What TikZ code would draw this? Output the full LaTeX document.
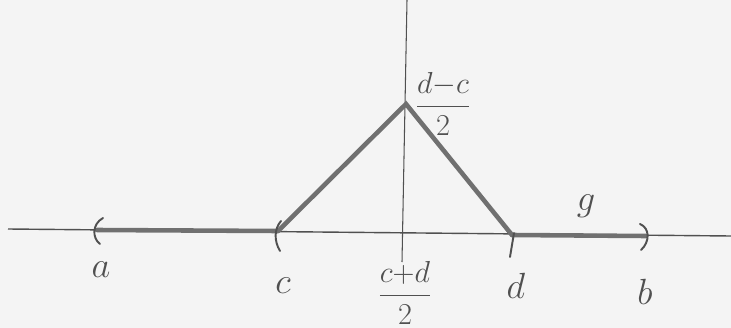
\documentclass[tikz,border=0pt]{standalone}
\usepackage{tikz}
\usetikzlibrary{positioning}
\definecolor{pencil}{HTML}{505050}
\definecolor{pencilthick}{HTML}{707070}
\definecolor{paper}{HTML}{F4F4F4}
\tikzset{%
  axisline/.style={draw=pencil,line width=0.8pt},
  graphline/.style={draw=pencilthick,line width=2.6pt,line cap=round},
  endmark/.style={draw=pencil,line width=1.1pt,line cap=round},
  pointlabel/.style={text=pencil,font=\huge},
  fraclabel/.style={text=pencil,font=\LARGE,inner sep=1pt}
}
\begin{document}
\begin{tikzpicture}[x=0.02cm,y=-0.02cm]
    \fill[paper] (0,0) rectangle (731,328);
    \useasboundingbox (0,0) rectangle (731,328);

    % points on the line
    \coordinate (left) at (8,229);
    \coordinate (right) at (731,236);
    \coordinate (pa) at (97,230);
    \coordinate (pc) at (278,231);
    \coordinate (pd) at (512,235);
    \coordinate (pb) at (646,236);
    \coordinate (apex) at (406,104);
    \coordinate (top) at (407,0);
    \coordinate (foot) at (402,262);

    % axis and middle line
    \draw[axisline] (left) -- (right);
    \draw[axisline,line width=0.6pt] (top) -- (foot);

    % the function g
    \draw[graphline] (pa) -- (pc);
    \draw[graphline] (pc) -- (apex) -- (pd);
    \draw[graphline] (pd) -- (pb);

    % interval ends
    \draw[endmark] ([shift={(6,-12)}]pa) .. controls ([shift={(-5,-6)}]pa) and ([shift={(-5,8)}]pa) .. ([shift={(3,14)}]pa);
    \draw[endmark] ([shift={(3,-10)}]pc) .. controls ([shift={(-4,-2)}]pc) and ([shift={(-4,10)}]pc) .. ([shift={(2,20)}]pc);
    \draw[endmark] ([shift={(2,-2)}]pd) -- ([shift={(-2,22)}]pd);
    \draw[endmark] ([shift={(-6,-12)}]pb) .. controls ([shift={(4,-8)}]pb) and ([shift={(4,6)}]pb) .. ([shift={(-5,14)}]pb);

    % labels
    \node[pointlabel] (la) at (101,270) {$a$};
    \node[pointlabel] (lc) at (283,286) {$c$};
    \node[pointlabel] (ld) at (516,286) {$d$};
    \node[pointlabel] (lb) at (645,292) {$b$};
    \node[pointlabel] (lg) at (586,206) {$g$};
    \node[fraclabel] (lmid) at (405,293) {$\displaystyle\frac{c{+}d}{2}$};
    \node[fraclabel] (lhalf) at (443,104) {$\displaystyle\frac{d{-}c}{2}$};
\end{tikzpicture}
\end{document}
